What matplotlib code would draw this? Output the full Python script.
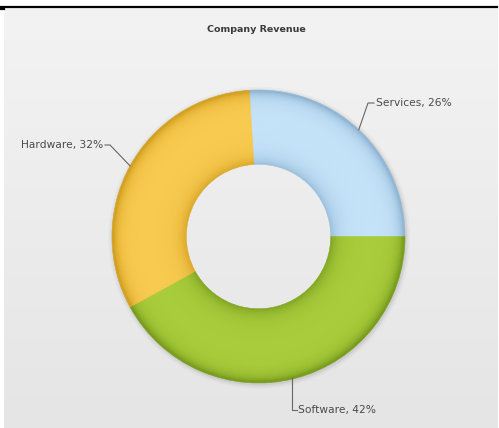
import numpy as np
import matplotlib
matplotlib.use("Agg")
import matplotlib.pyplot as plt
from matplotlib.lines import Line2D
from matplotlib.colors import to_rgb

# ---- data ----
categories = ["Services", "Software", "Hardware"]
shares = [26, 42, 32]
colors = ["#c4e2f8", "#a8cc3a", "#f8ca4e"]
dark_colors = ["#82aacb", "#6a8e14", "#c99414"]
title = "Company Revenue"

W, H = 499, 428
fig = plt.figure(figsize=(W / 100, H / 100), dpi=100)
fig.patch.set_facecolor("white")

# background gradient panel
bg = fig.add_axes([4 / W, 0, (498 - 4) / W, (H - 8) / H])
grad = np.linspace(0, 1, 256)[:, None]
c_top = np.array([0.953, 0.953, 0.953])
c_bot = np.array([0.898, 0.898, 0.898])
img = c_top[None, None, :] * (1 - grad[:, :, None]) + c_bot[None, None, :] * grad[:, :, None]
bg.imshow(img, aspect="auto", extent=[0, 1, 0, 1])
bg.set_axis_off()

# top border line
fig.add_artist(Line2D([0, 497 / W], [1 - 6.5 / H, 1 - 6.5 / H], color="black", lw=1.6,
                      transform=fig.transFigure))
fig.add_artist(Line2D([0, 4 / W], [1 - 8.5 / H, 1 - 8.5 / H], color="black", lw=1.6,
                      transform=fig.transFigure))

fig.text(256 / W, 1 - 30 / H, title, ha="center", va="center", fontsize=6.8,
         fontweight="bold", color="#3a3a3a")

# pie axes
cx, cy, R = 258.5, 236.5, 146.5
ax = fig.add_axes([(cx - R) / W, (H - cy - R) / H, 2 * R / W, 2 * R / H])
ax.set_axis_off()

START = 93.6
inner = 0.495
# soft shadow
for k, a in [(1.03, 0.025), (1.018, 0.035), (1.008, 0.05)]:
    ax.pie([1], radius=k, colors=["#000000"], startangle=90, center=(0.006, -0.008),
           wedgeprops=dict(width=k - 0.98, alpha=a, linewidth=0))

N = 40
edges = np.linspace(inner, 1.0, N + 1)
for i in range(N):
    r_in, r_out = edges[i], edges[i + 1]
    rm = 0.5 * (r_in + r_out)
    d_out = (1.0 - rm) / (1.0 - inner)
    d_in = (rm - inner) / (1.0 - inner)
    dark = 0.9 * np.exp(-d_out / 0.075) + 0.65 * np.exp(-d_in / 0.10)
    dark = min(dark, 1.0)
    cols = []
    for c, dc in zip(colors, dark_colors):
        c1 = np.array(to_rgb(c)); c2 = np.array(to_rgb(dc))
        cols.append(tuple(c1 * (1 - dark) + c2 * dark))
    wedges, _ = ax.pie(shares, radius=r_out, colors=cols, startangle=START, counterclock=False,
                       wedgeprops=dict(width=r_out - r_in + 0.002, linewidth=0.4))
    for w in wedges:
        w.set_edgecolor(w.get_facecolor())

ax.set_xlim(-1, 1)
ax.set_ylim(-1, 1)
ax.set_aspect("auto")

# labels with elbow leader lines (elbow positions in pixels)
elbows = {"Services": ((368, 103), (374, 103), "left"),
          "Software": ((292, 410), (297, 410), "left"),
          "Hardware": ((110, 145), (105, 145), "right")}
to_d = lambda px, py: ((px - cx) / R, (cy - py) / R)
start = START
total = float(sum(shares))
for name, s in zip(categories, shares):
    ang = start - 360 * s / total / 2
    start -= 360 * s / total
    p0 = (np.cos(np.radians(ang)), np.sin(np.radians(ang)))
    (ex, ey), (tx, ty), ha = elbows[name]
    e = to_d(ex, ey); t = to_d(tx, ty)
    if name == "Software":
        p0 = (e[0], -np.sqrt(1 - e[0] ** 2) + 0.01)
    ax.plot([p0[0], e[0], t[0]], [p0[1], e[1], t[1]], color="#666666", lw=0.8,
            clip_on=False, solid_joinstyle="miter")
    tx2 = t[0] + (1.5 / R if ha == "left" else -1.5 / R)
    ax.text(tx2, t[1], f"{name}, {s}%", ha=ha, va="center", fontsize=7.7,
            color="#4a4a4a", clip_on=False)

fig.savefig("out.png", dpi=100)
